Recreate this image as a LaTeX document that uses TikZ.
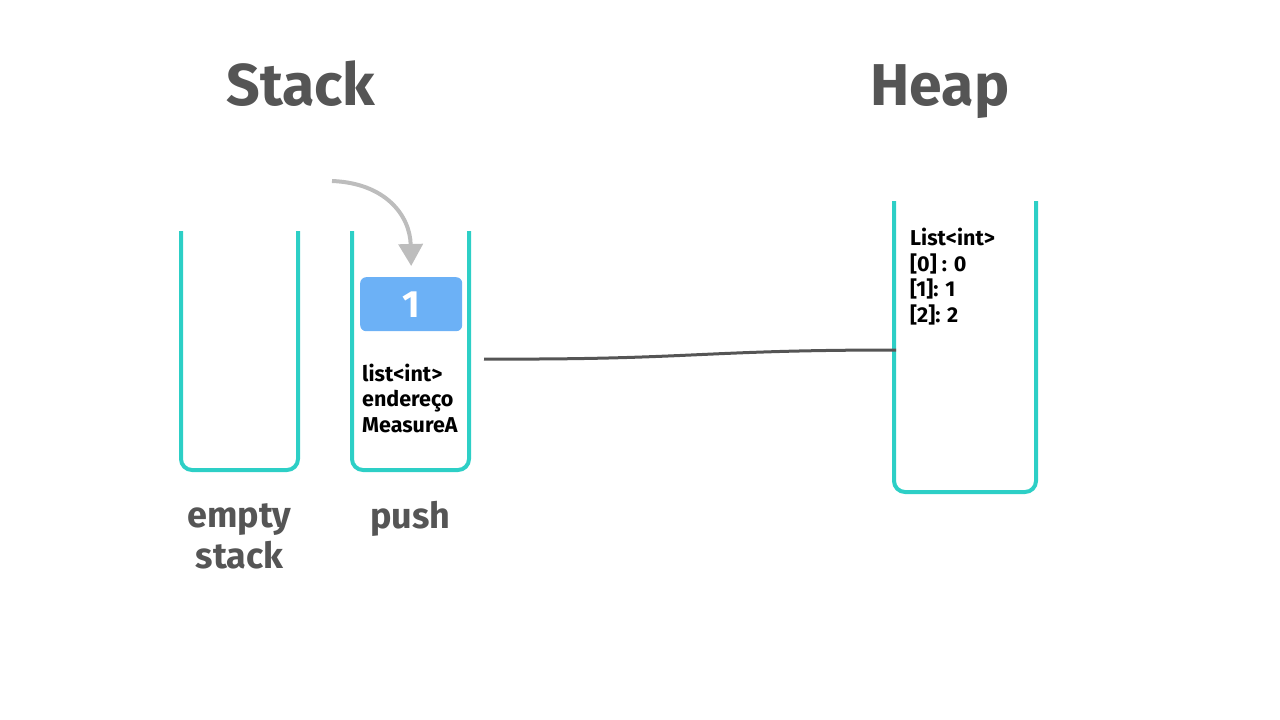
\documentclass[tikz,border=0pt]{standalone}
\usepackage{fontspec}
\setmainfont{Fira Sans}
\usetikzlibrary{arrows.meta, positioning, calc}
\definecolor{wallteal}{HTML}{2DCFC6}
\definecolor{blockblue}{HTML}{6CB1F6}
\definecolor{inkgray}{HTML}{555555}
\definecolor{dropgray}{HTML}{BDBDBD}

\begin{document}
\begin{tikzpicture}[
  x=1pt, y=-1pt,
  cont/.style={inner sep=0pt, outer sep=0pt, anchor=north west},
  wall/.style={wallteal, line width=4pt, rounded corners=11pt},
  title/.style={font=\fontsize{59}{60}\selectfont\bfseries, text=inkgray,
                anchor=base, inner sep=0pt},
  caption/.style={font=\fontsize{36}{41}\selectfont\bfseries, text=inkgray,
                  align=center, inner sep=0pt, anchor=north},
  cell/.style={font=\fontsize{21.5}{25.5}\selectfont\bfseries, align=left,
               inner sep=0pt, anchor=base west},
  block/.style={fill=blockblue, rounded corners=6pt, minimum width=102pt,
                minimum height=54pt, inner sep=0pt, anchor=north west,
                text=white, font=\fontsize{38}{38}\selectfont\bfseries},
  link/.style={inkgray, line width=3pt},
  drop/.style={dropgray, line width=4pt, -{Triangle[length=22pt,width=24pt]}}
]
\useasboundingbox (0,0) rectangle (1280,720);

% titles
\node[title] (stacktitle) at (301,105) {Stack};
\node[title] (heaptitle) at (940,105) {Heap};

% the three containers
\node[cont, minimum width=117pt, minimum height=239pt] (empty) at (181,231) {};
\node[cont, minimum width=117pt, minimum height=239pt] (push) at (352,231) {};
\node[cont, minimum width=142pt, minimum height=291pt] (heap) at (894,201) {};
\foreach \c in {empty, push, heap}
  \draw[wall] (\c.north west) -- (\c.south west) -- (\c.south east) -- (\c.north east);

\node[caption, below=33pt of empty] (emptylbl) {empty\\stack};
\node[caption, below=31pt of push] (pushlbl) {push};

% pushed frame
\node[block] (frame) at (360,277) {\raisebox{-2pt}{1}};
\node[cell] (frametxt) at (362,432) {list<int>\\endereço\\MeasureA};

% heap object
\node[cell] (listobj) at (910,322) {List<int>\\{[0] : 0}\\{[1]: 1}\\{[2]: 2}};

% push arrow
\coordinate (dropstart) at (332,181);
\draw[drop] (dropstart) .. controls (385,183) and (410,215) .. ($(frame.north)+(0,-11)$);

% reference to heap
\coordinate (ptr) at (484,359);
\coordinate (heapref) at ($(heap.north west)+(2,149)$);
\draw[link] (ptr) .. controls (690,360) and (700,350) .. (heapref);
\end{tikzpicture}
\end{document}
